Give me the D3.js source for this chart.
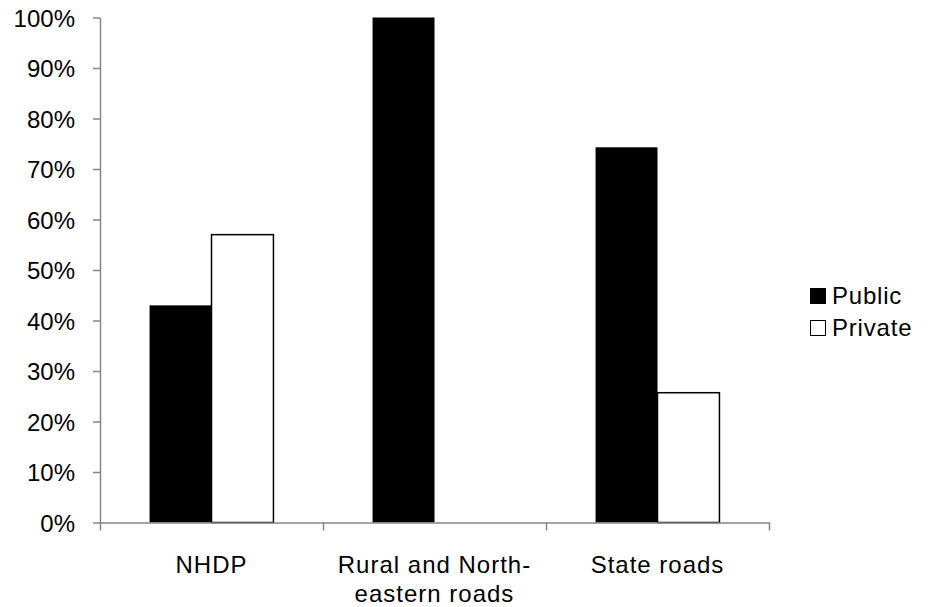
<!DOCTYPE html>
<html>
<head>
<meta charset="utf-8">
<script src="https://cdn.jsdelivr.net/npm/d3@7"></script>
<style>
  body { margin: 0; background: #fff; }
  text { font-family: "Liberation Sans", Arial, sans-serif; fill: #000; }
</style>
</head>
<body>
<div id="chart"></div>
<script>
const categories = ["NHDP", "Rural and North-eastern roads", "State roads"];
const categoryLines = [["NHDP"], ["Rural and North-", "eastern roads"], ["State roads"]];
const seriesNames = ["Public", "Private"];
const publicValues = [0.43, 1.00, 0.743];
const privateValues = [0.57, 0.00, 0.257];
const yTicks = [0, 0.1, 0.2, 0.3, 0.4, 0.5, 0.6, 0.7, 0.8, 0.9, 1.0];

const width = 928, height = 607;
const margin = { top: 17.5, right: 159, bottom: 84.5, left: 100 };

const svg = d3.select("#chart")
    .append("svg")
    .attr("width", width)
    .attr("height", height);

const x = d3.scaleBand()
    .domain(categories)
    .range([margin.left, width - margin.right])
    .paddingInner(0)
    .paddingOuter(0);

const x1 = d3.scaleBand()
    .domain(seriesNames)
    .range([0, x.bandwidth()])
    .paddingInner(0)
    .paddingOuter(0.8);

const y = d3.scaleLinear()
    .domain([0, 1])
    .range([height - margin.bottom, margin.top]);

const color = d3.scaleOrdinal()
    .domain(seriesNames)
    .range(["#000000", "#ffffff"]);

const rows = categories.map((c, i) => ({
    category: c,
    values: [
        { key: "Public", value: publicValues[i] },
        { key: "Private", value: privateValues[i] }
    ]
}));

// bars
const groups = svg.selectAll("g.cat")
    .data(rows)
    .enter()
    .append("g")
    .attr("class", "cat")
    .attr("transform", d => `translate(${x(d.category)},0)`);

groups.selectAll("rect")
    .data(d => d.values.filter(v => v.value > 0))
    .enter()
    .append("rect")
    .attr("x", d => x1(d.key))
    .attr("y", d => y(d.value))
    .attr("width", x1.bandwidth())
    .attr("height", d => y(0) - y(d.value))
    .attr("fill", d => color(d.key))
    .attr("stroke", "#000")
    .attr("stroke-width", d => d.key === "Private" ? 1.5 : 0);

// y axis
const yAxis = svg.append("g")
    .attr("transform", `translate(${margin.left},0)`)
    .call(d3.axisLeft(y).tickValues(yTicks).tickFormat(d3.format(".0%")).tickSize(7).tickSizeOuter(0).tickPadding(18));
yAxis.select(".domain").attr("stroke", "#868686").attr("stroke-width", 1.5);
yAxis.selectAll(".tick line").attr("stroke", "#868686").attr("stroke-width", 1.5);
yAxis.selectAll(".tick text")
    .attr("font-size", "24px")
    .attr("font-family", "Liberation Sans, Arial, sans-serif")
    .attr("fill", "#000")
    .attr("dy", "0.36em");

// x axis: ticks at category boundaries
const bounds = d3.scaleLinear()
    .domain([0, categories.length])
    .range(x.range());
const xAxis = svg.append("g")
    .attr("transform", `translate(0,${y(0)})`)
    .call(d3.axisBottom(bounds).tickValues(d3.range(categories.length + 1)).tickFormat("").tickSize(8).tickSizeOuter(0));
xAxis.select(".domain").attr("stroke", "#868686").attr("stroke-width", 1.5);
xAxis.selectAll(".tick line").attr("stroke", "#868686").attr("stroke-width", 1.5);

// category labels
svg.selectAll("text.cat-label")
    .data(categories)
    .enter()
    .append("text")
    .attr("class", "cat-label")
    .attr("x", d => x(d) + x.bandwidth() / 2)
    .attr("y", 573)
    .attr("text-anchor", "middle")
    .attr("font-size", "24px")
    .attr("letter-spacing", "1px")
    .selectAll("tspan")
    .data((d, i) => categoryLines[i])
    .enter()
    .append("tspan")
    .attr("x", function () { return d3.select(this.parentNode).attr("x"); })
    .attr("dy", (d, i) => i === 0 ? 0 : 29)
    .text(d => d);

// legend
const legend = svg.selectAll("g.legend")
    .data(seriesNames)
    .enter()
    .append("g")
    .attr("class", "legend")
    .attr("transform", (d, i) => `translate(810,${288 + i * 32})`);

legend.append("rect")
    .attr("x", 0.5)
    .attr("y", 0.5)
    .attr("width", 15)
    .attr("height", 15)
    .attr("fill", d => color(d))
    .attr("stroke", "#000")
    .attr("stroke-width", 1);

legend.append("text")
    .attr("x", 22)
    .attr("y", 15.5)
    .attr("font-size", "24px")
    .attr("letter-spacing", "0.8px")
    .text(d => d);
</script>
</body>
</html>
